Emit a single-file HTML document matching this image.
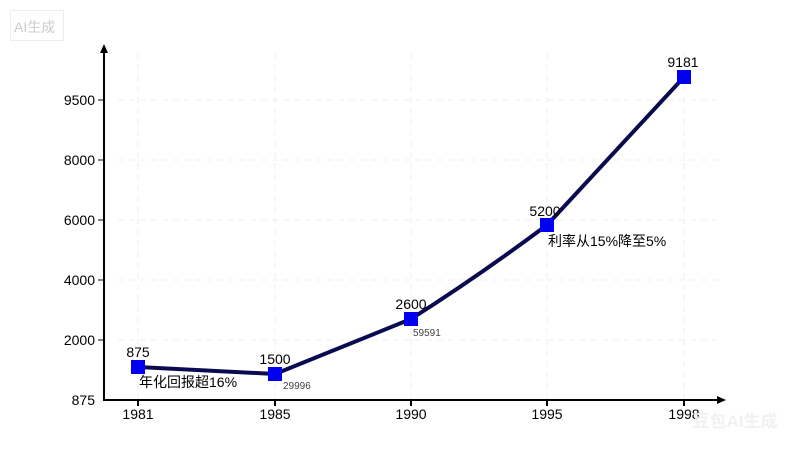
<!DOCTYPE html>
<html><head><meta charset="utf-8"><style>
body{margin:0;background:#fff;width:800px;height:450px;overflow:hidden}
svg text{font-family:"Liberation Sans","Noto Sans CJK SC",sans-serif}
</style></head><body>
<svg width="800" height="450" xmlns="http://www.w3.org/2000/svg">
<rect x="10.5" y="10.5" width="53" height="30" fill="#fff" stroke="#eee"/>
<text x="14" y="32" font-size="14" fill="#ccc">AI生成</text>
<g stroke="#efefef" stroke-dasharray="6,5" stroke-width="1">
<line x1="118" y1="100" x2="718" y2="100"/><line x1="118" y1="160" x2="718" y2="160"/>
<line x1="118" y1="220" x2="718" y2="220"/><line x1="118" y1="280" x2="718" y2="280"/>
<line x1="118" y1="340" x2="718" y2="340"/>
<line x1="138" y1="53" x2="138" y2="400"/><line x1="275" y1="53" x2="275" y2="400"/>
<line x1="411" y1="53" x2="411" y2="400"/><line x1="547" y1="53" x2="547" y2="400"/>
<line x1="684" y1="53" x2="684" y2="400"/>
</g>
<g stroke="#000" stroke-width="2">
<line x1="104" y1="52" x2="104" y2="401"/><line x1="103" y1="400" x2="720" y2="400"/>
<line x1="138" y1="400" x2="138" y2="406"/><line x1="275" y1="400" x2="275" y2="406"/>
<line x1="411" y1="400" x2="411" y2="406"/><line x1="547" y1="400" x2="547" y2="406"/>
<line x1="684" y1="400" x2="684" y2="406"/>
<line x1="98" y1="100" x2="104" y2="100" stroke-width="1"/><line x1="98" y1="160" x2="104" y2="160" stroke-width="1"/>
<line x1="98" y1="220" x2="104" y2="220" stroke-width="1"/><line x1="98" y1="280" x2="104" y2="280" stroke-width="1"/>
<line x1="98" y1="340" x2="104" y2="340" stroke-width="1"/>
</g>
<polygon points="104,44 100,53 108,53" fill="#000"/>
<polygon points="726,400 717,396 717,404" fill="#000"/>
<g font-size="14" fill="#000" text-anchor="end">
<text x="95" y="105">9500</text><text x="95" y="165">8000</text><text x="95" y="225">6000</text>
<text x="95" y="285">4000</text><text x="95" y="345">2000</text><text x="95" y="405">875</text>
</g>
<g font-size="14" fill="#000" text-anchor="middle">
<text x="138" y="419">1981</text><text x="275" y="419">1985</text><text x="411" y="419">1990</text>
<text x="547" y="419">1995</text><text x="684" y="419">1998</text>
</g>
<path d="M138,367 L275,374 L411,319 Q480,275 547,225 L684,77" fill="none" stroke="#0a0a50" stroke-width="4" stroke-linejoin="round"/>
<g fill="#0000ee">
<rect x="131" y="360" width="14" height="14"/><rect x="268" y="367" width="14" height="14"/>
<rect x="404" y="312" width="14" height="14"/><rect x="540" y="218" width="14" height="14"/>
<rect x="677" y="70" width="14" height="14"/>
</g>
<g font-size="14" fill="#000" text-anchor="middle">
<text x="138" y="357">875</text><text x="275" y="364">1500</text><text x="411" y="309">2600</text>
<text x="545" y="216">5200</text><text x="683" y="67">9181</text>
</g>
<text x="139" y="387" font-size="14" fill="#000">年化回报超16%</text>
<text x="548" y="246" font-size="14" fill="#000">利率从15%降至5%</text>
<text x="283" y="389" font-size="10" fill="#444">29996</text>
<text x="413" y="336" font-size="10" fill="#444">59591</text>
<text x="735" y="427" font-size="17" font-weight="bold" fill="#f0f0f0" text-anchor="middle" opacity="0.9">豆包AI生成</text>
</svg>
</body></html>
